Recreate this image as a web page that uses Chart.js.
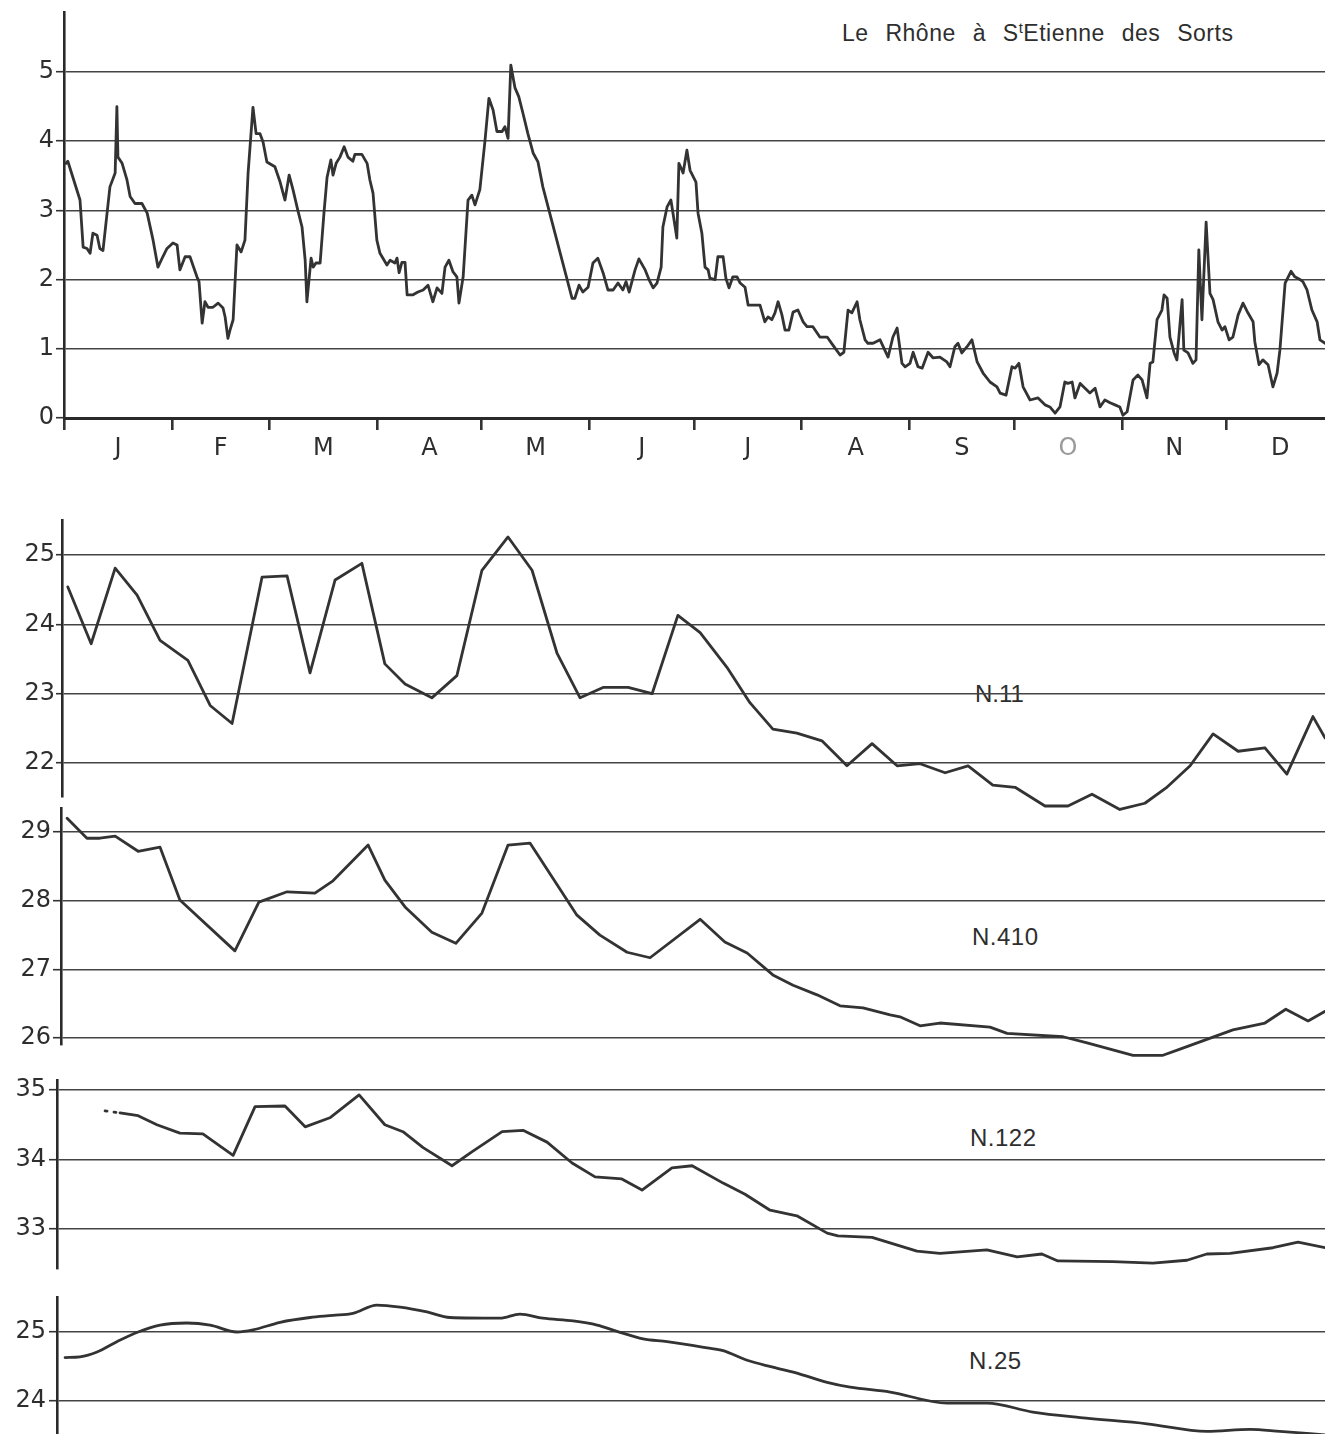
<!DOCTYPE html>
<html><head><meta charset="utf-8">
<script src="https://cdn.jsdelivr.net/npm/chart.js@4.4.1/dist/chart.umd.min.js"></script>
<style>
html,body{margin:0;padding:0;background:#fff;width:1325px;height:1434px;overflow:hidden;position:relative}
canvas{position:absolute;left:0}
.lbl{position:absolute;font-family:"Liberation Sans",Arial,sans-serif;color:#2e2e2e;white-space:nowrap}
</style></head><body>
<div class="lbl" style="left:842px;top:22px;font-size:23px;line-height:23px;word-spacing:10px;letter-spacing:0.5px">Le Rhône à S<span style="font-size:15px;position:relative;top:-8px">t</span>Etienne des Sorts</div>
<div class="lbl" style="left:975px;top:682px;font-size:24px;line-height:24px">N.11</div>
<div class="lbl" style="left:972px;top:925px;font-size:24px;line-height:24px;letter-spacing:0.5px">N.410</div>
<div class="lbl" style="left:970px;top:1126px;font-size:24px;line-height:24px;letter-spacing:0.5px">N.122</div>
<div class="lbl" style="left:969px;top:1349px;font-size:24px;line-height:24px;letter-spacing:0.5px">N.25</div>
<script>
// ---------- DATA ----------
const monthLabels = ['J','F','M','A','M','J','J','A','S','O','N','D'];
const monthStarts = [0,31,59,90,120,151,181,212,243,273,304,334];
const monthLengths = [31,28,31,30,31,30,31,31,30,31,30,31];

// Discharge of the Rhône (top panel), day of year / value
const flowDays = [0.6,1.1,4.6,5.5,6.6,7.5,8.3,9.5,10.3,11.2,13.2,14.7,15.2,15.5,16.7,18.1,19.0,20.4,22.4,23.9,25.6,27.0,28.4,29.6,31.3,32.5,33.3,34.8,36.2,38.2,38.8,39.7,40.5,41.4,42.8,44.3,45.7,46.3,47.1,47.7,48.6,49.7,50.9,52.0,52.9,54.3,55.2,56.3,57.2,58.3,60.6,62.1,63.5,64.7,65.8,67.2,68.4,69.3,69.8,71.0,71.6,72.4,73.6,74.7,75.6,76.7,77.3,78.2,79.3,80.5,81.6,83.0,83.6,85.6,87.1,87.9,88.8,89.9,90.8,92.8,93.7,95.1,95.7,96.3,97.1,98.0,98.6,100.3,101.7,103.2,104.6,106.0,107.2,108.6,109.5,110.6,111.8,112.9,113.5,114.7,116.1,117.2,118.1,119.5,121.0,122.1,123.3,124.4,125.9,126.7,127.6,128.4,129.6,130.7,131.9,133.3,134.8,136.2,137.6,146.0,146.8,148.0,149.1,150.6,152.0,153.4,154.9,156.3,157.8,159.2,160.6,161.5,162.4,164.1,165.2,167.0,168.1,169.3,170.4,171.6,172.1,173.3,174.4,175.0,176.1,176.7,177.6,177.9,179.0,179.9,181.6,182.2,183.3,184.2,185.1,185.6,187.1,187.9,189.4,190.2,191.1,192.2,193.4,194.3,195.7,196.6,200.0,201.4,202.3,203.4,204.3,205.2,206.3,207.2,208.3,209.5,210.9,212.4,213.5,215.2,217.2,219.3,221.0,223.0,224.1,225.3,226.4,227.9,228.7,230.2,231.0,232.5,234.5,236.8,238.2,239.4,240.8,241.7,243.1,244.0,245.4,246.6,248.3,249.7,251.7,253.7,254.6,256.0,256.9,258.0,259.5,260.9,262.4,264.1,266.1,268.1,269.0,270.7,272.4,273.3,274.4,275.6,277.6,279.9,281.9,283.3,284.8,286.2,287.6,288.5,289.7,290.5,292.0,293.4,294.8,296.3,297.7,299.1,300.6,302.0,303.4,304.3,305.5,307.2,308.6,309.8,311.2,312.1,312.9,314.1,315.5,316.1,317.0,317.8,319.0,319.8,321.3,321.8,323.0,324.4,325.3,326.1,327.0,328.2,329.3,330.2,331.6,332.8,333.6,334.8,335.9,337.4,338.8,340.2,341.7,342.2,343.4,344.5,346.0,347.4,348.6,349.4,350.9,352.6,353.7,354.9,356.0,357.2,358.6,360.1,360.9,362.4];
const flowValues = [3.68,3.71,3.15,2.47,2.45,2.38,2.67,2.64,2.45,2.42,3.34,3.54,4.5,3.77,3.68,3.44,3.2,3.1,3.1,2.96,2.57,2.18,2.33,2.45,2.53,2.5,2.14,2.33,2.33,2.04,1.97,1.37,1.68,1.6,1.6,1.66,1.59,1.46,1.15,1.27,1.42,2.5,2.4,2.57,3.54,4.49,4.11,4.11,3.99,3.7,3.63,3.41,3.15,3.51,3.3,3.0,2.76,2.28,1.68,2.31,2.18,2.24,2.24,2.96,3.48,3.73,3.51,3.68,3.77,3.92,3.77,3.71,3.81,3.81,3.68,3.44,3.25,2.57,2.38,2.21,2.28,2.24,2.31,2.1,2.25,2.25,1.78,1.78,1.82,1.85,1.92,1.68,1.88,1.8,2.18,2.28,2.11,2.04,1.66,2.04,3.15,3.22,3.08,3.3,4.02,4.62,4.45,4.14,4.14,4.21,4.04,5.1,4.77,4.64,4.4,4.11,3.83,3.7,3.34,1.73,1.73,1.92,1.82,1.89,2.24,2.31,2.1,1.85,1.85,1.95,1.85,1.97,1.82,2.14,2.3,2.14,2.0,1.88,1.95,2.18,2.76,3.05,3.15,2.96,2.6,3.68,3.58,3.54,3.87,3.58,3.41,2.96,2.67,2.18,2.14,2.02,2.0,2.33,2.33,2.02,1.88,2.04,2.04,1.95,1.89,1.63,1.63,1.39,1.46,1.42,1.52,1.68,1.49,1.27,1.27,1.53,1.56,1.39,1.32,1.32,1.17,1.17,1.05,0.91,0.95,1.56,1.52,1.68,1.42,1.13,1.08,1.08,1.13,0.88,1.17,1.3,0.79,0.74,0.79,0.95,0.74,0.72,0.95,0.87,0.88,0.81,0.74,1.03,1.08,0.94,1.03,1.13,0.81,0.65,0.52,0.45,0.36,0.33,0.74,0.72,0.79,0.45,0.26,0.29,0.19,0.16,0.07,0.16,0.52,0.5,0.52,0.29,0.5,0.43,0.36,0.43,0.16,0.26,0.22,0.19,0.16,0.04,0.09,0.55,0.62,0.55,0.29,0.79,0.81,1.42,1.56,1.78,1.73,1.17,0.94,0.84,1.71,0.98,0.94,0.79,0.84,2.43,1.42,2.83,1.8,1.71,1.39,1.27,1.32,1.13,1.17,1.49,1.66,1.52,1.39,1.1,0.77,0.84,0.77,0.45,0.65,0.98,1.95,2.12,2.04,2.01,1.97,1.85,1.56,1.39,1.13,1.08];
const flowTicks = [0,1,2,3,4,5];

// N.11
const n11Days = [1.1,7.8,14.7,21.0,27.6,35.6,42.0,48.3,56.9,64.1,70.7,77.9,85.6,92.2,98.0,105.7,112.9,120.1,127.6,134.5,141.7,148.3,154.9,162.1,169.0,176.4,182.8,190.5,197.1,203.7,210.6,217.8,225.0,232.2,239.4,246.0,253.2,259.8,266.9,273.3,281.9,288.5,295.4,303.4,310.6,316.7,323.6,330.2,337.4,345.1,351.4,358.9,362.4];
const n11Values = [24.54,23.72,24.81,24.42,23.77,23.48,22.83,22.57,24.68,24.70,23.30,24.64,24.88,23.43,23.14,22.94,23.26,24.78,25.26,24.78,23.58,22.94,23.09,23.09,23.00,24.13,23.88,23.38,22.87,22.49,22.43,22.32,21.96,22.28,21.96,21.99,21.86,21.96,21.68,21.65,21.38,21.38,21.55,21.33,21.42,21.64,21.96,22.42,22.17,22.22,21.84,22.67,22.36];
const n11Ticks = [22,23,24,25];

// N.410
const n410Days = [0.9,6.6,10.3,14.7,21.3,27.6,33.3,49.1,56.0,64.1,72.1,77.3,87.4,92.2,98.0,105.7,112.6,120.1,127.6,133.9,147.4,154.0,161.8,168.4,182.8,189.9,196.3,203.7,209.5,216.4,223.0,229.6,237.4,240.2,246.0,251.7,266.1,271.0,287.1,294.0,307.2,315.8,320.7,335.9,345.1,351.1,357.5,362.4];
const n410Values = [29.20,28.91,28.91,28.94,28.72,28.78,28.01,27.27,27.98,28.13,28.11,28.29,28.81,28.30,27.91,27.54,27.38,27.82,28.81,28.84,27.79,27.50,27.25,27.17,27.73,27.40,27.24,26.92,26.77,26.63,26.47,26.44,26.34,26.31,26.18,26.22,26.16,26.07,26.02,25.93,25.75,25.75,25.84,26.12,26.22,26.42,26.25,26.39];
const n410Ticks = [26,27,28,29];

// N.122
const n122DotDays = [11.8,16.1];
const n122DotValues = [34.70,34.67];
const n122Days = [16.1,21.3,26.7,33.3,39.9,48.6,54.9,63.5,69.3,76.4,84.8,92.2,97.4,103.2,111.5,117.2,125.9,131.9,138.8,146.0,152.6,160.3,166.1,174.7,180.5,189.4,195.7,202.9,210.6,219.3,222.4,232.2,245.1,251.7,265.2,273.9,281.0,285.6,301.4,312.9,322.7,328.4,335.1,347.4,354.6,362.4];
const n122Values = [34.67,34.63,34.50,34.38,34.37,34.06,34.76,34.77,34.47,34.60,34.93,34.50,34.40,34.17,33.91,34.11,34.40,34.42,34.25,33.95,33.75,33.72,33.56,33.88,33.91,33.66,33.50,33.27,33.19,32.94,32.90,32.88,32.68,32.65,32.70,32.60,32.64,32.54,32.53,32.51,32.55,32.64,32.65,32.73,32.81,32.73];
const n122Ticks = [33,34,35];

// N.25
const n25Days = [0.3,4.6,9.5,15.2,21.3,27.6,35.3,42.0,49.7,54.3,62.1,70.7,77.3,83.0,89.9,96.6,104.3,110.9,125.3,131.0,137.6,146.3,153.2,158.9,166.4,173.3,184.8,189.4,196.3,203.7,211.5,219.3,225.9,237.4,253.7,265.2,278.4,292.0,311.2,328.4,340.8,349.4,362.4];
const n25Values = [24.63,24.64,24.71,24.86,25.00,25.10,25.13,25.10,25.00,25.03,25.14,25.21,25.24,25.27,25.39,25.36,25.29,25.21,25.20,25.26,25.20,25.16,25.10,25.01,24.90,24.86,24.77,24.73,24.59,24.49,24.39,24.27,24.20,24.13,23.97,23.97,23.84,23.76,23.67,23.56,23.59,23.56,23.51];
const n25Ticks = [24,25];

// ---------- RENDERING ----------
const monthMids = monthStarts.map((s,i)=> s + monthLengths[i]/2);
const X_MAX = 362.36;
const PX_PER_DAY = 3.48;
const INK = '#333333';
const pts = (d,v) => d.map((x,i)=>({x:x, y:v[i]}));
function lineDs(d, v, extra) {
  return Object.assign({data: pts(d,v), borderColor: INK, borderWidth: 2.8, pointRadius: 0,
    tension: 0, fill: false, clip: false, borderJoinStyle: 'round', borderCapStyle: 'round'}, extra || {});
}

function panel(o) {
  const c = document.createElement('canvas');
  c.width = 1325; c.height = o.h;
  c.style.top = o.top + 'px';
  document.body.appendChild(c);
  const xMin = (o.left - 64) / PX_PER_DAY;
  const xScale = o.x || {type:'linear', display:false, min:xMin, max:X_MAX};
  new Chart(c, {
    type: 'line',
    data: {datasets: o.datasets},
    options: {
      responsive: false, animation: false, devicePixelRatio: 1,
      layout: {padding: {top: o.padTop, bottom: o.padBottom, left: 0, right: 0}},
      plugins: {legend: {display:false}, tooltip: {enabled:false}, title:{display:false}},
      scales: {
        x: xScale,
        y: {
          type: 'linear', min: o.yMin, max: o.yMax,
          afterBuildTicks: s => { s.ticks = o.yTicks.map(v=>({value:v})); },
          afterFit: s => { s.width = o.left; },
          ticks: {font: {family: 'DejaVu Sans', size: 24}, color: '#2e2e2e', padding: o.pad},
          grid: {color: '#444', lineWidth: 1.4, drawTicks: true, tickLength: o.tickLen, tickColor: '#333', tickWidth: 1.6},
          border: {display: true, width: 2.6, color: '#2a2a2a'}
        }
      }
    }
  });
}

// Top panel: Le Rhône à St Etienne des Sorts
panel({
  top: -20, h: 495, padTop: 32, padBottom: 0, left: 64,
  yMin: 0, yMax: 5.867, yTicks: flowTicks, tickLen: 8, pad: 2,
  datasets: [lineDs(flowDays, flowValues)],
  x: {
    type: 'linear', min: 0, max: X_MAX, position: 'bottom',
    afterBuildTicks: s => {
      s.ticks = monthStarts.concat(monthMids).sort((a,b)=>a-b).map(v=>({value:v}));
    },
    afterFit: s => { s.height = 57; },
    ticks: {
      autoSkip: false, maxRotation: 0, minRotation: 0, padding: 4,
      font: {family: 'DejaVu Sans', size: 24},
      color: ctx => (ctx.tick && ctx.tick.value === monthMids[9]) ? '#9a9a9a' : '#2e2e2e',
      callback: v => { const i = monthMids.indexOf(v); return i >= 0 ? monthLabels[i] : ''; }
    },
    grid: {
      drawOnChartArea: false, drawTicks: true, tickLength: 12, tickWidth: 2.6, lineWidth: 2.6,
      tickColor: ctx => (ctx.tick && monthStarts.includes(ctx.tick.value)) ? '#333' : 'rgba(0,0,0,0)'
    },
    border: {display: true, width: 3, color: '#2a2a2a'}
  }
});

// N.11
panel({top: 490, h: 340, padTop: 30, padBottom: 33, left: 62,
  yMin: 21.51, yMax: 25.505, yTicks: n11Ticks, tickLen: 6, pad: 1,
  datasets: [lineDs(n11Days, n11Values)]});

// N.410
panel({top: 780, h: 295, padTop: 28, padBottom: 30, left: 61,
  yMin: 25.90, yMax: 29.35, yTicks: n410Ticks, tickLen: 8, pad: 2,
  datasets: [lineDs(n410Days, n410Values)]});

// N.122
panel({top: 1050, h: 250, padTop: 30, padBottom: 31, left: 57,
  yMin: 32.424, yMax: 35.144, yTicks: n122Ticks, tickLen: 8, pad: 3,
  datasets: [lineDs(n122DotDays, n122DotValues, {borderDash: [2, 7]}), lineDs(n122Days, n122Values)]});

// N.25
panel({top: 1267, h: 200, padTop: 30, padBottom: 33, left: 57,
  yMin: 23.522, yMax: 25.507, yTicks: n25Ticks, tickLen: 8, pad: 3,
  datasets: [lineDs(n25Days, n25Values, {cubicInterpolationMode: 'monotone', tension: 0.4})]});
</script>
</body></html>
